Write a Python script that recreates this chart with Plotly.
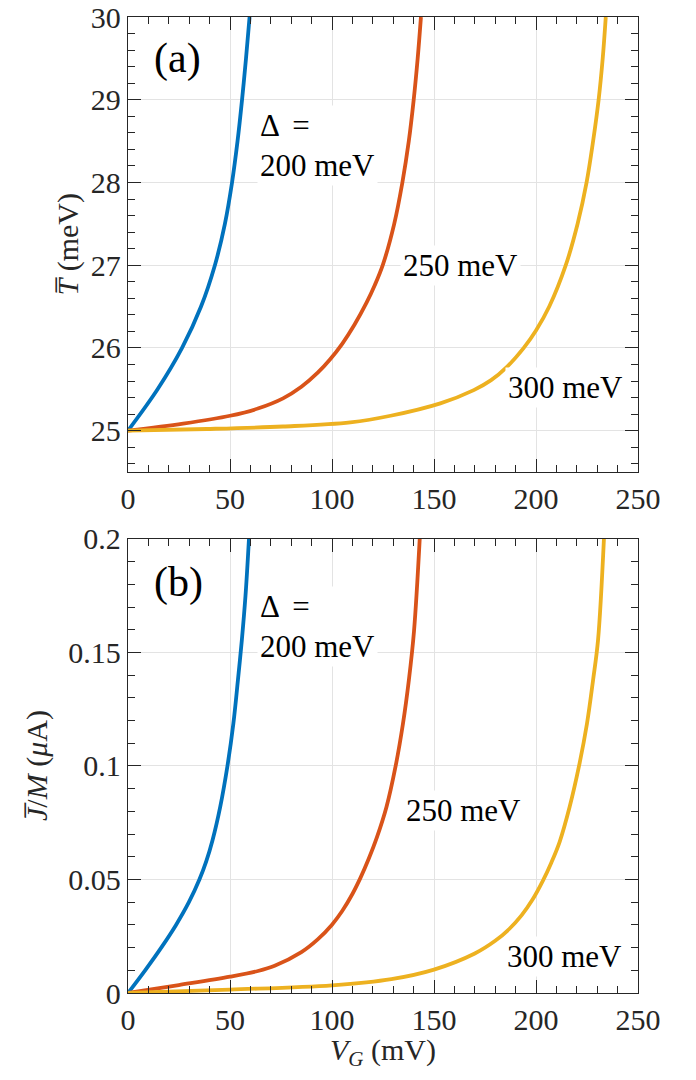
import plotly.graph_objects as go

FONT = "Liberation Serif"
INK = "#262626"

# Gate voltage V_G (mV) and mean temperature T (meV), panel (a)
t200_vg = [0, 14.5, 26.5, 35.8, 42.6, 47.5, 51.0, 53.7, 55.9, 57.85, 59.6]
t200 = [25.0, 25.5, 26.0, 26.5, 27.0, 27.5, 28.0, 28.5, 29.0, 29.5, 30.0]

t250_vg = [0, 27, 50, 64, 76, 85, 93, 99, 105, 111, 117, 121, 125, 130.5, 134.5, 137.65, 140.05, 142.0, 143.6]
t250 = [25.0, 25.085, 25.18, 25.27, 25.39, 25.53, 25.70, 25.86, 26.05, 26.28, 26.55, 26.76, 27.01,
        27.5, 28.0, 28.5, 29.0, 29.5, 30.0]

t300_vg = [0, 38.6, 76, 109, 128.7, 153.1, 169.5, 178, 185.9, 194, 200, 206.5, 214.6, 220.4, 224.8, 228.0,
           230.7, 232.7, 234.2]
t300 = [25.0, 25.02, 25.05, 25.1, 25.18, 25.33, 25.49, 25.61, 25.774, 26.0, 26.21, 26.5, 27.0, 27.5, 28.0, 28.5,
        29.0, 29.5, 30.0]

# Gate voltage V_G (mV) and current per mode J/M (uA), panel (b)
j200_vg = [0, 8.4, 16.3, 23.55, 29.85, 35.0, 38.35, 41.4, 45.2, 48.75, 51.65, 53.9, 55.8, 57.6, 59.3]
j200 = [0, 0.01, 0.02, 0.03, 0.04, 0.05, 0.058, 0.0672, 0.082, 0.1, 0.1187, 0.138, 0.1554, 0.175, 0.2]

j250_vg = [0, 24.9, 50, 63.7, 71.9, 85, 93, 100, 105, 110, 114, 118, 122, 126.7, 131.2, 134.8, 137.7, 140.2, 143.0]
j250 = [0, 0.0035, 0.0072, 0.0097, 0.0120, 0.018, 0.0236, 0.0301, 0.0361, 0.0436, 0.0508, 0.0591, 0.0685,
        0.0819, 0.1, 0.1187, 0.138, 0.1594, 0.2]

j300_vg = [0, 50, 100, 129.1, 150, 170, 180, 187, 193, 198, 203.4, 207.5, 211.6, 216.5, 221.1, 225.0, 228.0, 230.4, 233.3]
j300 = [0, 0.0015, 0.0034, 0.0061, 0.0103, 0.0174, 0.023, 0.0283, 0.0343, 0.0407, 0.0495, 0.0574, 0.0666,
        0.082, 0.1, 0.1187, 0.138, 0.1554, 0.2]

COLORS = ["#0072BD", "#D95319", "#EDB120"]

fig = go.Figure()

for (vx, vy, c) in [(t200_vg, t200, COLORS[0]), (t250_vg, t250, COLORS[1]), (t300_vg, t300, COLORS[2])]:
    fig.add_trace(go.Scatter(x=vx, y=vy, mode="lines", xaxis="x", yaxis="y",
                             line=dict(color=c, width=3.8, shape="spline", smoothing=1.0),
                             showlegend=False, hoverinfo="skip"))

for (vx, vy, c) in [(j200_vg, j200, COLORS[0]), (j250_vg, j250, COLORS[1]), (j300_vg, j300, COLORS[2])]:
    fig.add_trace(go.Scatter(x=vx, y=vy, mode="lines", xaxis="x2", yaxis="y2",
                             line=dict(color=c, width=3.8, shape="spline", smoothing=1.0),
                             showlegend=False, hoverinfo="skip"))


def axis(**kw):
    d = dict(showline=True, linecolor=INK, linewidth=1.3, mirror="allticks",
             ticks="inside", ticklen=13, tickwidth=1.2, tickcolor=INK,
             showgrid=True, gridcolor="#e3e3e3", gridwidth=1, zeroline=False,
             automargin=False,
             tickfont=dict(family=FONT, size=30, color=INK))
    d.update(kw)
    return d


def minor(step):
    return dict(ticks="inside", ticklen=7, tickwidth=1.2, tickcolor=INK, dtick=step, showgrid=False)


fig.update_layout(
    width=696, height=1080,
    margin=dict(l=128, r=58, t=17, b=87),
    paper_bgcolor="white", plot_bgcolor="white",
    font=dict(family=FONT, size=30, color="#000"),
    xaxis=axis(range=[0, 250], dtick=50, domain=[0, 1], anchor="y", minor=minor(10)),
    yaxis=axis(range=[24.5, 30], dtick=1, domain=[0.5338, 1], anchor="x", minor=minor(0.2)),
    xaxis2=axis(range=[0, 250], dtick=50, domain=[0, 1], anchor="y2", minor=minor(10)),
    yaxis2=axis(range=[0, 0.2], dtick=0.05, domain=[0, 0.4652], anchor="x2", minor=minor(0.01)),
)

# Axis titles placed in pixel space around each panel
TITLE = dict(family=FONT, size=30, color=INK)
fig.add_annotation(text="<i>T\u0305</i> (meV)", xref="paper", yref="paper",
                   x=-60 / 510, y=0.5338 + (1 - 0.5338) / 2, textangle=-90,
                   xanchor="center", yanchor="middle", showarrow=False, font=TITLE)
fig.add_annotation(text="<i>J\u0305</i>/<i>M</i> (<i>\u03bc</i>A)", xref="paper", yref="paper",
                   x=-91 / 510, y=0.4652 / 2, textangle=-90,
                   xanchor="center", yanchor="middle", showarrow=False, font=TITLE)
fig.add_annotation(text="<i>V</i><sub><i>G</i></sub> (mV)", xref="paper", yref="paper",
                   x=0.5, y=-59 / 976, xanchor="center", yanchor="middle",
                   showarrow=False, font=TITLE)

GAP = "\u0394 \u2009=<br>200 meV"
notes = [
    # (x, y, text, xref, yref, xanchor, size)
    (24.4, 29.5, "(a)", "x", "y", "center", 42),
    (63.2, 28.45, GAP, "x", "y", "left", 31),
    (133.4, 27.0, "250 meV", "x", "y", "left", 31),
    (184.6, 25.52, "300 meV", "x", "y", "left", 31),
    (24.8, 0.181, "(b)", "x2", "y2", "center", 42),
    (63.2, 0.1614, GAP, "x2", "y2", "left", 31),
    (134.9, 0.0805, "250 meV", "x2", "y2", "left", 31),
    (184.4, 0.0162, "300 meV", "x2", "y2", "left", 31),
]
for (x, y, txt, xr, yr, xa, sz) in notes:
    fig.add_annotation(x=x, y=y, xref=xr, yref=yr, text=txt, showarrow=False,
                       xanchor=xa, yanchor="middle", align="left",
                       font=dict(family=FONT, size=sz, color="#000"),
                       bgcolor="white" if xa == "left" else "rgba(0,0,0,0)", borderpad=2)

fig.write_html("out.html")
